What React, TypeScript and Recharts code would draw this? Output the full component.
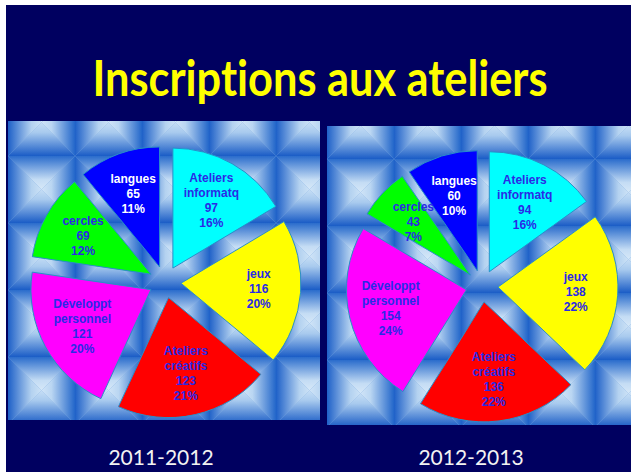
import { Cell, Pie, PieChart, Sector } from "recharts";

const categories = [
  "Ateliers informatq",
  "jeux",
  "Ateliers créatifs",
  "Développt personnel",
  "cercles",
  "langues",
];
const sliceColors = ["#00ffff", "#ffff00", "#ff0000", "#ff00ff", "#00ff00", "#0000ff"];
const textColors = ["#2a2ae6", "#2a2ae6", "#2a2ae6", "#2a2ae6", "#2a2ae6", "#ffffff"];

const values2011 = [97, 116, 123, 121, 69, 65];
const percents2011 = ["16%", "20%", "21%", "20%", "12%", "11%"];
const values2012 = [94, 138, 136, 154, 43, 60];
const percents2012 = ["16%", "22%", "22%", "24%", "7%", "10%"];

const yearLabels = ["2011-2012", "2012-2013"];
const title = "Inscriptions aux ateliers";

const RAD = Math.PI / 180;
const EXPLODE = 16;
const TILE = 67;
const HALF = TILE / 2;

const toRows = (values: number[], pcts: string[]) =>
  categories.map((name, i) => ({ name, value: values[i], pct: pcts[i], index: i }));

function ExplodedSector(props: any) {
  const { cx, cy, midAngle, innerRadius, outerRadius, startAngle, endAngle, fill } = props;
  const dx = EXPLODE * Math.cos(-midAngle * RAD);
  const dy = EXPLODE * Math.sin(-midAngle * RAD);
  return (
    <Sector
      cx={cx + dx}
      cy={cy + dy}
      innerRadius={innerRadius}
      outerRadius={outerRadius}
      startAngle={startAngle}
      endAngle={endAngle}
      fill={fill}
      stroke="#2a8ec8"
      strokeWidth={1}
    />
  );
}

function SliceLabel(props: any) {
  const { cx, cy, midAngle, outerRadius, index, payload } = props;
  const row = payload?.payload ?? payload;
  const r = EXPLODE + outerRadius * 0.65;
  const x = cx + r * Math.cos(-midAngle * RAD);
  const y = cy + r * Math.sin(-midAngle * RAD);
  const lines = [...categories[index].split(" "), String(row?.value ?? props.value), row?.pct ?? ""];
  const y0 = y - ((lines.length - 1) / 2) * 15;
  return (
    <text
      x={x}
      y={y0}
      textAnchor="middle"
      dominantBaseline="central"
      fill={textColors[index]}
      fontFamily="'Liberation Sans', Arial, sans-serif"
      fontWeight={700}
      fontSize={12}
    >
      {lines.map((l, i) => (
        <tspan key={i} x={x} dy={i === 0 ? 0 : 15}>
          {l}
        </tspan>
      ))}
    </text>
  );
}

function YearPie({ values, pcts, width, height, cx, cy }: any) {
  return (
    <PieChart width={width} height={height} margin={{ top: 0, right: 0, bottom: 0, left: 0 }}>
      <Pie
        data={toRows(values, pcts)}
        dataKey="value"
        nameKey="name"
        cx={cx}
        cy={cy}
        outerRadius={120}
        startAngle={90}
        endAngle={-270}
        stroke="#2a8ec8"
        isAnimationActive={false}
        labelLine={false}
        label={(p: any) => <SliceLabel {...p} />}
        shape={(p: any) => <ExplodedSector {...p} />}
      >
        {categories.map((c, i) => (
          <Cell key={c} fill={sliceColors[i]} />
        ))}
      </Pie>
    </PieChart>
  );
}

function TilePattern({ id, x, y }: { id: string; x: number; y: number }) {
  return (
    <pattern id={id} x={x} y={y} width={TILE} height={TILE} patternUnits="userSpaceOnUse">
      <rect width={TILE} height={TILE} fill="#7aa8e0" />
      <polygon points={`0,0 ${TILE},0 ${HALF},${HALF}`} fill="url(#gTop)" />
      <polygon points={`0,${TILE} ${TILE},${TILE} ${HALF},${HALF}`} fill="url(#gBottom)" />
      <polygon points={`0,0 0,${TILE} ${HALF},${HALF}`} fill="url(#gLeft)" />
      <polygon points={`${TILE},0 ${TILE},${TILE} ${HALF},${HALF}`} fill="url(#gRight)" />
    </pattern>
  );
}

export default function App() {
  return (
    <div style={{ position: "absolute", left: 0, top: 0, width: 631, height: 472, background: "#fff", overflow: "hidden" }}>
      <svg width={631} height={472} style={{ position: "absolute", left: 0, top: 0 }}>
        <defs>
          <linearGradient id="gTop" x1="0" y1="0" x2="0" y2={HALF} gradientUnits="userSpaceOnUse">
            <stop offset="0" stopColor="#2a6ccc" />
            <stop offset="0.7" stopColor="#c4dcf4" />
            <stop offset="1" stopColor="#d6e8f8" />
          </linearGradient>
          <linearGradient id="gBottom" x1="0" y1={TILE} x2="0" y2={HALF} gradientUnits="userSpaceOnUse">
            <stop offset="0" stopColor="#1a5cc6" />
            <stop offset="0.7" stopColor="#a8caee" />
            <stop offset="1" stopColor="#c6def5" />
          </linearGradient>
          <linearGradient id="gLeft" x1="0" y1="0" x2={HALF} y2="0" gradientUnits="userSpaceOnUse">
            <stop offset="0" stopColor="#1e60c8" />
            <stop offset="0.7" stopColor="#b4d2f0" />
            <stop offset="1" stopColor="#cce2f6" />
          </linearGradient>
          <linearGradient id="gRight" x1={TILE} y1="0" x2={HALF} y2="0" gradientUnits="userSpaceOnUse">
            <stop offset="0" stopColor="#2266ca" />
            <stop offset="0.7" stopColor="#bad6f2" />
            <stop offset="1" stopColor="#d0e4f7" />
          </linearGradient>
          <TilePattern id="tilesL" x={8} y={121 + 35 - TILE} />
          <TilePattern id="tilesR" x={327} y={126 + 33 - TILE} />
        </defs>
        <rect x={6} y={5} width={625} height={467} fill="#000060" />
        <rect x={8} y={121} width={312} height={299} fill="url(#tilesL)" />
        <rect x={327} y={126} width={304} height={299} fill="url(#tilesR)" />
        <text
          x={320}
          y={96}
          textAnchor="middle"
          fill="#ffff00"
          fontFamily="Lato, 'Open Sans', sans-serif"
          fontWeight={700}
          fontSize={50}
          textLength={455}
          lengthAdjust="spacingAndGlyphs"
          style={{ fontVariantLigatures: "none", fontFeatureSettings: '"liga" 0' }}
        >
          {title}
        </text>
        <text x={161} y={465} textAnchor="middle" fill="#f2f2f2" fontFamily="Lato, sans-serif" fontSize={21}>
          {yearLabels[0]}
        </text>
        <text x={471} y={465} textAnchor="middle" fill="#f2f2f2" fontFamily="Lato, sans-serif" fontSize={21}>
          {yearLabels[1]}
        </text>
      </svg>
      <div style={{ position: "absolute", left: 8, top: 121 }}>
        <YearPie values={values2011} pcts={percents2011} width={312} height={299} cx={157} cy={161} />
      </div>
      <div style={{ position: "absolute", left: 327, top: 126 }}>
        <YearPie values={values2012} pcts={percents2012} width={304} height={299} cx={155} cy={160} />
      </div>
    </div>
  );
}
